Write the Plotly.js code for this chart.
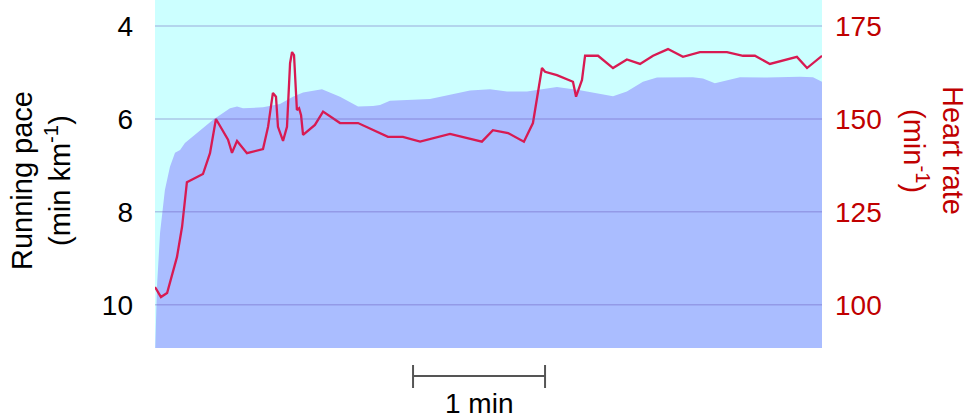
<!DOCTYPE html>
<html>
<head>
<meta charset="utf-8">
<script src="https://cdn.plot.ly/plotly-3.0.1.min.js"></script>
<style>html,body{margin:0;padding:0;background:#fff;}#chart{width:970px;height:418px;}</style>
</head>
<body>
<div id="chart"></div>
<script>
// Running pace (min/km) vs time (s)
const paceTime = [0.9, 2.3, 4.5, 6.8, 9.1, 11.4, 13.6, 19.1, 26.4, 34.1, 37.3, 40, 49.1, 56.8, 62.7, 67.3, 75.9, 84.1, 92.3, 99.1, 102.3, 106.8, 125, 134.1, 143.2, 152.3, 160, 169.1, 182.7, 193.2, 202.3, 208.2, 214.5, 221.8, 228.2, 244.5, 249.1, 254.5, 265.9, 278.2, 293.2, 299.1, 303.2];
const paceValues = [9.61, 8.45, 7.53, 7.03, 6.73, 6.67, 6.52, 6.30, 6.02, 5.77, 5.73, 5.77, 5.75, 5.68, 5.52, 5.43, 5.36, 5.52, 5.73, 5.72, 5.70, 5.61, 5.57, 5.48, 5.39, 5.36, 5.41, 5.41, 5.31, 5.38, 5.45, 5.51, 5.41, 5.20, 5.11, 5.10, 5.13, 5.23, 5.10, 5.11, 5.09, 5.10, 5.20];

// Heart rate (1/min) vs time (s)
const hrTime = [0, 2.7, 5.5, 10, 12.3, 14.5, 21.8, 25, 27.7, 33.2, 35, 37.3, 41.8, 49.1, 51.4, 53.6, 55, 55.9, 58.2, 60, 61.4, 62.3, 63.2, 64.5, 65.5, 66.4, 67.3, 72.7, 76.4, 84.1, 92.3, 99.1, 102.3, 105.9, 112.7, 120.5, 134.1, 148.6, 153.6, 160.5, 167.7, 171.8, 175.9, 177.3, 182.7, 190, 191.4, 194.1, 195.5, 201.4, 208.2, 214.5, 220.5, 226.4, 233.2, 240, 247.7, 260, 267.3, 272.7, 279.5, 291.8, 296.4, 303.2];
const hrValues = [104.8, 102.1, 103.2, 112.9, 121, 133, 135.2, 140.8, 150, 144.4, 140.9, 144.1, 140.8, 141.9, 147.9, 157, 156, 147.9, 144.1, 147.9, 165, 168, 167.2, 152.4, 152.9, 151, 145.7, 148.4, 152, 148.9, 148.9, 147, 146.3, 145.2, 145.2, 143.9, 146, 143.9, 147, 146.2, 143.9, 148.9, 163.7, 162.7, 161.8, 160, 156, 160.5, 167, 167, 163.7, 166, 164.8, 167, 168.8, 166.7, 168, 168, 167, 167, 164.8, 166.7, 163.7, 167];

// Axis ticks
const paceTicks = [4, 6, 8, 10];
const hrTicks = [100, 125, 150, 175];
const paceRange = [10.93, 3.44];
const hrRange = [88.4, 182];
const timeRange = [0, 303.2];
const scaleBarStart = 117.3; // seconds
const scaleBarLength = 60;   // 1 minute

const FONT = 'Liberation Sans, Arial, sans-serif';
const paceBottom = paceRange[0] + 0.2;

const traces = [
  {x: [timeRange[0], timeRange[1]], y: [paceBottom, paceBottom], type: 'scatter', mode: 'lines',
   line: {width: 0, color: 'rgba(0,0,0,0)'}, hoverinfo: 'skip', showlegend: false, yaxis: 'y'},
  {x: paceTime, y: paceValues, type: 'scatter', mode: 'lines', fill: 'tonexty',
   fillcolor: 'rgb(170,189,255)', line: {width: 0, color: 'rgb(170,189,255)'}, showlegend: false, yaxis: 'y'},
  {x: hrTime, y: hrValues, type: 'scatter', mode: 'lines',
   line: {width: 2.3, color: '#d81a52'}, showlegend: false, yaxis: 'y2'}
];

const px2y = p => (348 - p) / 348;
const shapes = paceTicks.map(v => ({type: 'line', xref: 'paper', yref: 'y', x0: 0, x1: 1, y0: v, y1: v,
  line: {color: 'rgba(100,80,180,0.32)', width: 1.5}, layer: 'above'}));
const sbEnd = scaleBarStart + scaleBarLength;
shapes.push({type: 'line', xref: 'x', yref: 'paper', x0: scaleBarStart, x1: sbEnd, y0: px2y(376), y1: px2y(376), line: {color: '#555', width: 2}});
shapes.push({type: 'line', xref: 'x', yref: 'paper', x0: scaleBarStart, x1: scaleBarStart, y0: px2y(365), y1: px2y(388), line: {color: '#555', width: 2}});
shapes.push({type: 'line', xref: 'x', yref: 'paper', x0: sbEnd, x1: sbEnd, y0: px2y(365), y1: px2y(388), line: {color: '#555', width: 2}});

const pxx = p => (p - 155) / 667;
const annotations = [
  {text: 'Running pace', xref: 'paper', yref: 'paper', x: pxx(22), y: px2y(181), textangle: -90, showarrow: false,
   xanchor: 'center', yanchor: 'middle', font: {family: FONT, size: 29, color: '#000'}},
  {text: '(min km<sup>-1</sup>)', xref: 'paper', yref: 'paper', x: pxx(58), y: px2y(181), textangle: -90, showarrow: false,
   xanchor: 'center', yanchor: 'middle', font: {family: FONT, size: 29, color: '#000'}},
  {text: 'Heart rate', xref: 'paper', yref: 'paper', x: pxx(953), y: px2y(150), textangle: 90, showarrow: false,
   xanchor: 'center', yanchor: 'middle', font: {family: FONT, size: 29, color: '#c00000'}},
  {text: '(min<sup>-1</sup>)', xref: 'paper', yref: 'paper', x: pxx(916), y: px2y(151), textangle: 90, showarrow: false,
   xanchor: 'center', yanchor: 'middle', font: {family: FONT, size: 29, color: '#c00000'}},
  {text: '1 min', xref: 'x', yref: 'paper', x: scaleBarStart + scaleBarLength / 2, y: px2y(387), showarrow: false,
   xanchor: 'center', yanchor: 'top', borderpad: 0, font: {family: FONT, size: 28, color: '#000'}}
];

const layout = {
  width: 970, height: 418,
  margin: {l: 155, r: 148, t: 0, b: 70, pad: 0},
  paper_bgcolor: '#ffffff', plot_bgcolor: '#ccffff',
  showlegend: false,
  xaxis: {range: timeRange, visible: false, showgrid: false, zeroline: false, fixedrange: true},
  yaxis: {range: paceRange, tickvals: paceTicks, ticktext: paceTicks.map(String), showgrid: false, zeroline: false,
    showline: false, ticks: '', ticklabelstandoff: 21, tickfont: {family: FONT, size: 28, color: '#000'}},
  yaxis2: {range: hrRange, tickvals: hrTicks, ticktext: hrTicks.map(String), overlaying: 'y', side: 'right',
    showgrid: false, zeroline: false, showline: false, ticks: '', ticklabelstandoff: 12,
    tickfont: {family: FONT, size: 28, color: '#c00000'}},
  shapes: shapes,
  annotations: annotations
};

Plotly.newPlot('chart', traces, layout, {displayModeBar: false, staticPlot: true});
</script>
</body>
</html>
